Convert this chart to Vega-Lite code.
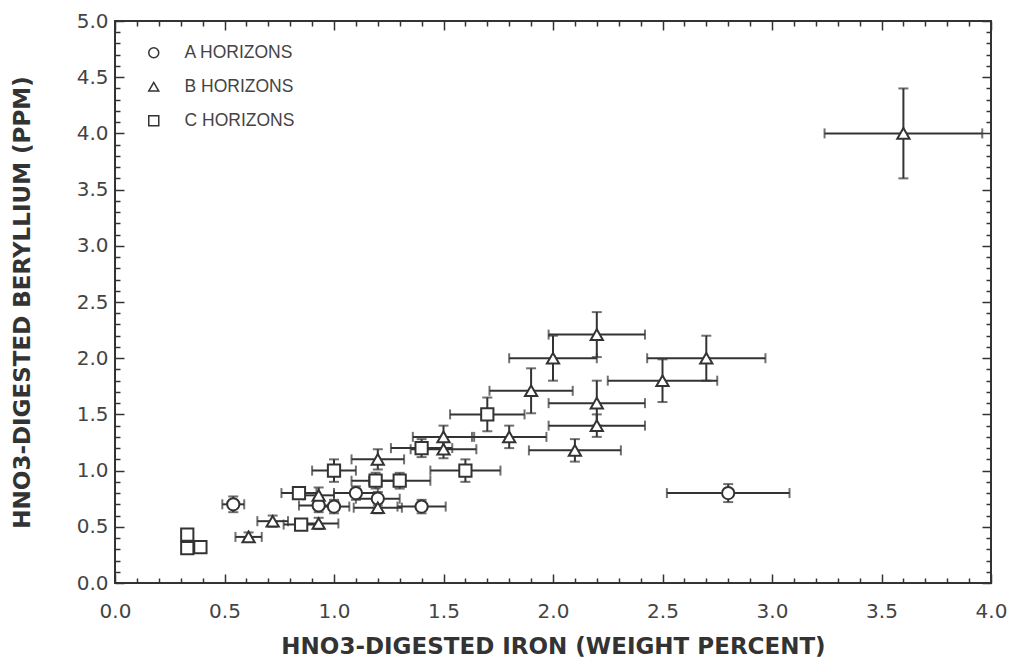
{
  "$schema": "https://vega.github.io/schema/vega-lite/v6.json",
  "width": 876,
  "height": 562,
  "autosize": "none",
  "padding": {"left": 115, "top": 21, "right": 20, "bottom": 79},
  "background": "white",
  "config": {
    "view": {"stroke": "#333", "strokeWidth": 2},
    "font": "DejaVu Sans"
  },
  "data": {
    "values": [
      {"h": "A HORIZONS", "x": 0.54, "y": 0.70, "xe": 0.05, "ye": 0.07},
      {"h": "A HORIZONS", "x": 0.93, "y": 0.69, "xe": 0.09, "ye": 0.06},
      {"h": "A HORIZONS", "x": 1.00, "y": 0.68, "xe": 0.07, "ye": 0.06},
      {"h": "A HORIZONS", "x": 1.10, "y": 0.80, "xe": 0.10, "ye": 0.06},
      {"h": "A HORIZONS", "x": 1.20, "y": 0.75, "xe": 0.10, "ye": 0.06},
      {"h": "A HORIZONS", "x": 1.40, "y": 0.68, "xe": 0.11, "ye": 0.06},
      {"h": "A HORIZONS", "x": 2.80, "y": 0.80, "xe": 0.28, "ye": 0.08},
      {"h": "B HORIZONS", "x": 0.61, "y": 0.41, "xe": 0.06, "ye": 0.04},
      {"h": "B HORIZONS", "x": 0.72, "y": 0.55, "xe": 0.07, "ye": 0.05},
      {"h": "B HORIZONS", "x": 0.93, "y": 0.53, "xe": 0.09, "ye": 0.05},
      {"h": "B HORIZONS", "x": 0.93, "y": 0.78, "xe": 0.07, "ye": 0.07},
      {"h": "B HORIZONS", "x": 1.20, "y": 0.67, "xe": 0.11, "ye": 0.05},
      {"h": "B HORIZONS", "x": 1.20, "y": 1.10, "xe": 0.12, "ye": 0.09},
      {"h": "B HORIZONS", "x": 1.50, "y": 1.30, "xe": 0.14, "ye": 0.10},
      {"h": "B HORIZONS", "x": 1.50, "y": 1.19, "xe": 0.15, "ye": 0.08},
      {"h": "B HORIZONS", "x": 1.80, "y": 1.30, "xe": 0.17, "ye": 0.10},
      {"h": "B HORIZONS", "x": 1.90, "y": 1.71, "xe": 0.19, "ye": 0.20},
      {"h": "B HORIZONS", "x": 2.00, "y": 2.00, "xe": 0.20, "ye": 0.20},
      {"h": "B HORIZONS", "x": 2.10, "y": 1.18, "xe": 0.21, "ye": 0.10},
      {"h": "B HORIZONS", "x": 2.20, "y": 2.21, "xe": 0.22, "ye": 0.20},
      {"h": "B HORIZONS", "x": 2.20, "y": 1.60, "xe": 0.22, "ye": 0.20},
      {"h": "B HORIZONS", "x": 2.20, "y": 1.40, "xe": 0.22, "ye": 0.10},
      {"h": "B HORIZONS", "x": 2.50, "y": 1.80, "xe": 0.25, "ye": 0.19},
      {"h": "B HORIZONS", "x": 2.70, "y": 2.00, "xe": 0.27, "ye": 0.20},
      {"h": "B HORIZONS", "x": 3.60, "y": 4.00, "xe": 0.36, "ye": 0.40},
      {"h": "C HORIZONS", "x": 0.33, "y": 0.43, "xe": 0, "ye": 0},
      {"h": "C HORIZONS", "x": 0.33, "y": 0.31, "xe": 0, "ye": 0},
      {"h": "C HORIZONS", "x": 0.39, "y": 0.32, "xe": 0, "ye": 0},
      {"h": "C HORIZONS", "x": 0.85, "y": 0.52, "xe": 0.08, "ye": 0.04},
      {"h": "C HORIZONS", "x": 0.84, "y": 0.80, "xe": 0.08, "ye": 0.05},
      {"h": "C HORIZONS", "x": 1.00, "y": 1.00, "xe": 0.10, "ye": 0.10},
      {"h": "C HORIZONS", "x": 1.19, "y": 0.91, "xe": 0.11, "ye": 0.07},
      {"h": "C HORIZONS", "x": 1.30, "y": 0.91, "xe": 0.14, "ye": 0.07},
      {"h": "C HORIZONS", "x": 1.40, "y": 1.20, "xe": 0.14, "ye": 0.08},
      {"h": "C HORIZONS", "x": 1.60, "y": 1.00, "xe": 0.16, "ye": 0.10},
      {"h": "C HORIZONS", "x": 1.70, "y": 1.50, "xe": 0.17, "ye": 0.15}
    ]
  },
  "resolve": {"axis": {"x": "independent", "y": "independent"}},
  "layer": [
    {
      "transform": [{"filter": "datum.xe > 0"}],
      "mark": {"type": "errorbar", "ticks": {"size": 10, "thickness": 2, "color": "#333"}, "rule": {"strokeWidth": 2, "color": "#333"}, "color": "#333"},
      "encoding": {
        "x": {"field": "x", "type": "quantitative", "scale": {"domain": [0, 4], "nice": false, "zero": false},
          "axis": {
            "orient": "bottom",
            "values": [0,0.1,0.2,0.3,0.4,0.5,0.6,0.7,0.8,0.9,1,1.1,1.2,1.3,1.4,1.5,1.6,1.7,1.8,1.9,2,2.1,2.2,2.3,2.4,2.5,2.6,2.7,2.8,2.9,3,3.1,3.2,3.3,3.4,3.5,3.6,3.7,3.8,3.9,4],
            "labelExpr": "abs(datum.value*2 - round(datum.value*2)) < 0.001 ? format(datum.value, '.1f') : ''",
            "tickSize": {"condition": {"test": "abs(datum.value*2 - round(datum.value*2)) < 0.001", "value": -9}, "value": -5},
            "tickColor": "#333", "tickWidth": 1.5,
            "domain": false, "grid": false,
            "labelFont": "DejaVu Sans", "labelFontSize": 20, "labelColor": "#444", "labelPadding": 27, "labelFlush": false, "labelOverlap": false,
            "title": "HNO3-DIGESTED IRON (WEIGHT PERCENT)",
            "titleFont": "DejaVu Sans", "titleFontSize": 23, "titleFontWeight": "bold", "titleColor": "#333", "titlePadding": 10
          }},
        "xError": {"field": "xe"},
        "y": {"field": "y", "type": "quantitative", "scale": {"domain": [0, 5], "nice": false, "zero": false},
          "axis": {
            "orient": "left",
            "values": [0,0.1,0.2,0.3,0.4,0.5,0.6,0.7,0.8,0.9,1,1.1,1.2,1.3,1.4,1.5,1.6,1.7,1.8,1.9,2,2.1,2.2,2.3,2.4,2.5,2.6,2.7,2.8,2.9,3,3.1,3.2,3.3,3.4,3.5,3.6,3.7,3.8,3.9,4,4.1,4.2,4.3,4.4,4.5,4.6,4.7,4.8,4.9,5],
            "labelExpr": "abs(datum.value*2 - round(datum.value*2)) < 0.001 ? format(datum.value, '.1f') : ''",
            "tickSize": {"condition": {"test": "abs(datum.value*2 - round(datum.value*2)) < 0.001", "value": -9}, "value": -5},
            "tickColor": "#333", "tickWidth": 1.5,
            "domain": false, "grid": false,
            "labelFont": "DejaVu Sans", "labelFontSize": 20, "labelColor": "#444", "labelPadding": 16, "labelFlush": false, "labelOverlap": false,
            "title": "HNO3-DIGESTED BERYLLIUM (PPM)",
            "titleFont": "DejaVu Sans", "titleFontSize": 23, "titleFontWeight": "bold", "titleColor": "#333", "titlePadding": 42
          }}
      }
    },
    {
      "transform": [{"filter": "datum.ye > 0"}],
      "mark": {"type": "errorbar", "ticks": {"size": 10, "thickness": 2, "color": "#333"}, "rule": {"strokeWidth": 2, "color": "#333"}, "color": "#333"},
      "encoding": {
        "x": {"field": "x", "type": "quantitative", "axis": null},
        "y": {"field": "y", "type": "quantitative", "axis": null},
        "yError": {"field": "ye"}
      }
    },
    {
      "mark": {"type": "point", "filled": true, "fill": "white", "stroke": "#333", "strokeWidth": 2, "size": 150, "opacity": 1},
      "encoding": {
        "x": {"field": "x", "type": "quantitative",
          "axis": {
            "orient": "top",
            "values": [0,0.1,0.2,0.3,0.4,0.5,0.6,0.7,0.8,0.9,1,1.1,1.2,1.3,1.4,1.5,1.6,1.7,1.8,1.9,2,2.1,2.2,2.3,2.4,2.5,2.6,2.7,2.8,2.9,3,3.1,3.2,3.3,3.4,3.5,3.6,3.7,3.8,3.9,4],
            "labels": false, "title": null, "domain": false, "grid": false,
            "tickSize": {"condition": {"test": "abs(datum.value*2 - round(datum.value*2)) < 0.001", "value": -9}, "value": -5},
            "tickColor": "#333", "tickWidth": 1.5
          }},
        "y": {"field": "y", "type": "quantitative",
          "axis": {
            "orient": "right",
            "values": [0,0.1,0.2,0.3,0.4,0.5,0.6,0.7,0.8,0.9,1,1.1,1.2,1.3,1.4,1.5,1.6,1.7,1.8,1.9,2,2.1,2.2,2.3,2.4,2.5,2.6,2.7,2.8,2.9,3,3.1,3.2,3.3,3.4,3.5,3.6,3.7,3.8,3.9,4,4.1,4.2,4.3,4.4,4.5,4.6,4.7,4.8,4.9,5],
            "labels": false, "title": null, "domain": false, "grid": false,
            "tickSize": {"condition": {"test": "abs(datum.value*2 - round(datum.value*2)) < 0.001", "value": -9}, "value": -5},
            "tickColor": "#333", "tickWidth": 1.5
          }},
        "shape": {"field": "h", "type": "nominal",
          "scale": {"domain": ["A HORIZONS", "B HORIZONS", "C HORIZONS"], "range": ["circle", "triangle-up", "square"]},
          "legend": {
            "orient": "none", "legendX": 30, "legendY": 23, "title": null,
            "labelFont": "Liberation Sans", "labelFontSize": 17.5, "labelColor": "#444", "labelOffset": 22,
            "symbolSize": 100, "rowPadding": 15,
            "encode": {"symbols": {"update": {"stroke": {"value": "#333"}, "fill": {"value": "white"}, "strokeWidth": {"value": 2}, "opacity": {"value": 1}}}}
          }}
      }
    }
  ]
}
